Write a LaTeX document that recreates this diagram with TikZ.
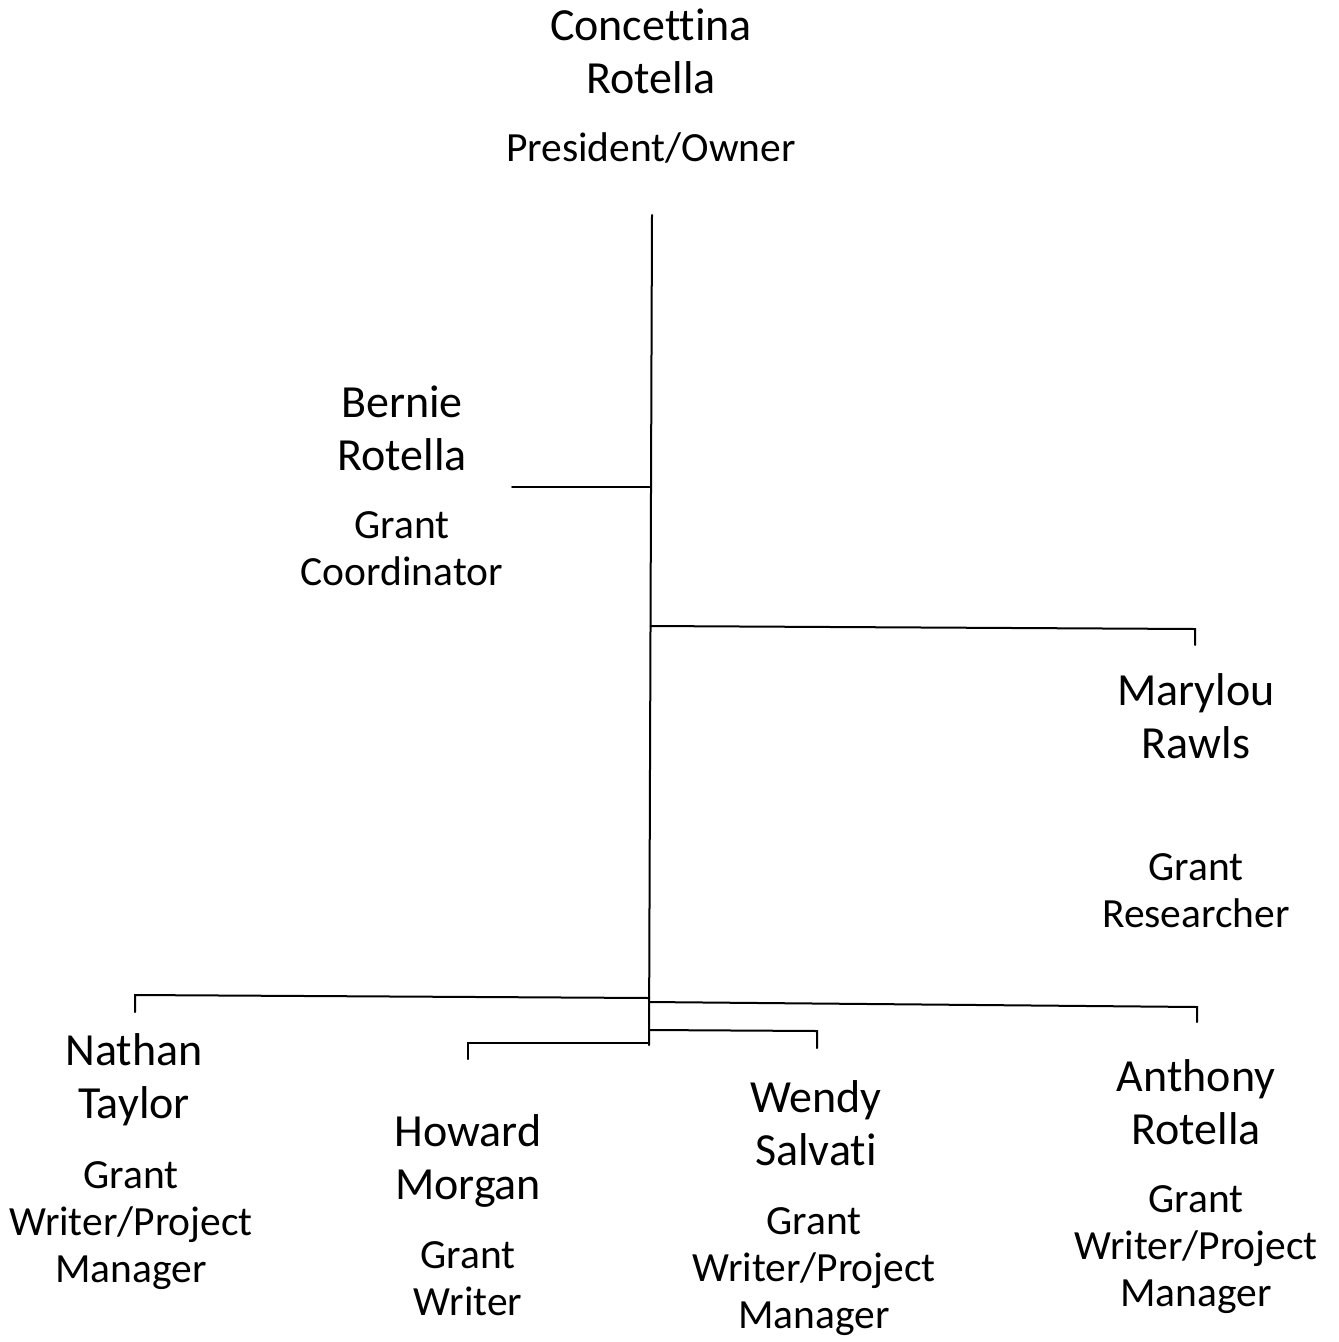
\documentclass[tikz,border=0pt]{standalone}
\usepackage{fontspec}
\setmainfont[Ligatures=NoCommon]{Carlito}
\begin{document}
\begin{tikzpicture}[x=1pt,y=-1pt,
  namebox/.style={anchor=north,inner sep=0pt,align=center,font=\fontsize{46}{53}\selectfont},
  rolebox/.style={anchor=north,inner sep=0pt,align=center,font=\fontsize{41.5}{47}\selectfont},
  link/.style={line width=2pt,line cap=round,line join=miter}]
\useasboundingbox (0,0) rectangle (1339,1342);
% people
\node[namebox] (cname) at (651,3) {\strut Concettina\\Rotella};
\node[rolebox] (crole) at (651,128) {\strut President/Owner};
\node[namebox] (bname) at (402,380) {\strut Bernie\\Rotella};
\node[rolebox] (brole) at (402,505) {\strut Grant\\Coordinator};
\node[namebox] (mname) at (1196,668) {\strut Marylou\\Rawls};
\node[rolebox] (mrole) at (1196,847) {\strut Grant\\Researcher};
\node[namebox] (nname) at (134,1028) {\strut Nathan\\Taylor};
\node[rolebox] (nrole) at (131,1155) {\strut Grant\\Writer/Project\\Manager};
\node[namebox] (hname) at (468,1109) {\strut Howard\\Morgan};
\node[rolebox] (hrole) at (468,1235) {\strut Grant\\Writer};
\node[namebox] (wname) at (816,1075) {\strut Wendy\\Salvati};
\node[rolebox] (wrole) at (814,1201) {\strut Grant\\Writer/Project\\Manager};
\node[namebox] (aname) at (1196,1054) {\strut Anthony\\Rotella};
\node[rolebox] (arole) at (1196,1179) {\strut Grant\\Writer/Project\\Manager};
% junctions
\coordinate (ttop) at (652,215);
\coordinate (tbot) at (649,1045);
\coordinate (jb) at (650.8,487);
\coordinate (bend) at (512,487);
\coordinate (jm) at (650.5,626);
\coordinate (mc) at (1195,629);
\coordinate (mend) at (1195,645);
\coordinate (jn) at (649.3,998);
\coordinate (nc) at (135,995);
\coordinate (nend) at (135,1012);
\coordinate (ja) at (649.3,1002);
\coordinate (ac) at (1197,1007);
\coordinate (aend) at (1197,1022);
\coordinate (jw) at (649.1,1030);
\coordinate (wc) at (817,1031);
\coordinate (wend) at (817,1048);
\coordinate (jh) at (649,1043);
\coordinate (hc) at (468,1043);
\coordinate (hend) at (468,1059);
% connectors
\draw[link] (ttop) -- (tbot);
\draw[link] (jb) -- (bend);
\draw[link] (jm) -- (mc) -- (mend);
\draw[link] (jn) -- (nc) -- (nend);
\draw[link] (ja) -- (ac) -- (aend);
\draw[link] (jw) -- (wc) -- (wend);
\draw[link] (jh) -- (hc) -- (hend);
\end{tikzpicture}
\end{document}
